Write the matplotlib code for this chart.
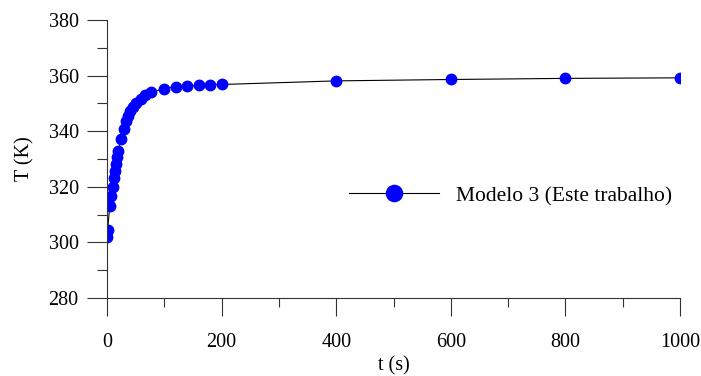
import matplotlib
matplotlib.use('Agg')
import matplotlib.pyplot as plt
from matplotlib.ticker import MultipleLocator

plt.rcParams['font.family'] = 'Liberation Serif'

# dados
t = [0, 1, 5, 7.5, 10, 12, 14, 16, 18, 20, 24, 30, 34, 37, 41, 46, 51, 59, 67, 76,
     100, 120, 140, 160, 180, 200, 400, 600, 800, 1000]
T = [301.8, 304.6, 313.2, 316.8, 320, 323, 325.7, 328.3, 330.8, 332.9, 337.3, 340.8,
     343.6, 345.5, 347.2, 348.6, 350.2, 351.7, 353, 354, 355.3, 356, 356.2, 356.5,
     356.7, 356.8, 358.1, 358.6, 359.0, 359.2]
label = 'Modelo 3 (Este trabalho)'

fig = plt.figure(figsize=(7.01, 3.76), dpi=100)
ax = fig.add_axes([107/701, 1-298/376, (680-107)/701, (298-20)/376])

ax.plot(t, T, color='black', lw=0.8, marker='o', markersize=7.5,
        markerfacecolor='blue', markeredgecolor='blue', label=label)

ax.set_xlim(0, 1000)
ax.set_ylim(280, 380)
ax.xaxis.set_major_locator(MultipleLocator(200))
ax.xaxis.set_minor_locator(MultipleLocator(100))
ax.yaxis.set_major_locator(MultipleLocator(20))
ax.yaxis.set_minor_locator(MultipleLocator(10))

for s in ['top', 'right']:
    ax.spines[s].set_visible(False)
for s in ['left', 'bottom']:
    ax.spines[s].set_linewidth(0.8)
    ax.spines[s].set_color('#333333')

ax.tick_params(axis='x', which='major', direction='out', length=13, width=0.8, color='#333333', labelsize=14.5, pad=12)
ax.tick_params(axis='x', which='minor', direction='out', length=6.5, width=0.8, color='#333333')
ax.tick_params(axis='y', which='major', direction='out', length=14.4, width=0.8, color='#333333', labelsize=14.5, pad=6)
ax.tick_params(axis='y', which='minor', direction='out', length=7.2, width=0.8, color='#333333')

ax.set_xlabel('t (s)', fontsize=14.5, labelpad=3)
ax.set_ylabel('T (K)', fontsize=14.5, labelpad=10)

ax.legend(loc='center left', bbox_to_anchor=(0.403, 0.367), frameon=False, fontsize=15.5,
          borderpad=0, handlelength=4.2, markerscale=1.55, handletextpad=0.8)

fig.savefig('out.png', dpi=100)
